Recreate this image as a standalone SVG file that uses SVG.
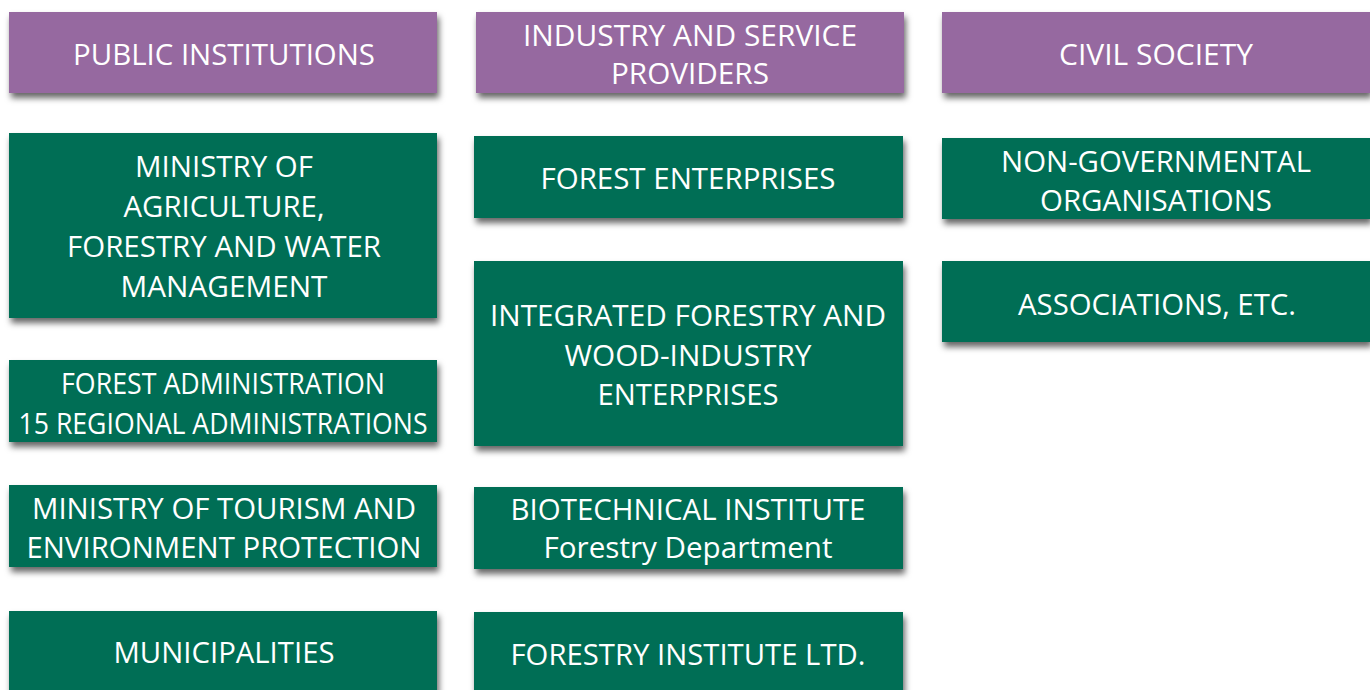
<svg xmlns="http://www.w3.org/2000/svg" width="1370" height="690" viewBox="0 0 1370 690">
<defs>
<filter id="sh" x="-5%" y="-20%" width="115%" height="150%">
<feDropShadow dx="2" dy="5" stdDeviation="3" flood-color="#000" flood-opacity="0.6"/>
</filter>
</defs>
<style>
.h{fill:#9669a0;filter:url(#sh)}
.g{fill:#046e55;filter:url(#sh)}
text{font-family:"Open Sans","Noto Sans",sans-serif;font-size:29px;fill:#fff;text-anchor:middle}
</style>
<rect width="1370" height="690" fill="#fff"/>
<g id="connectors"/>
<g id="public-institutions"><rect class="h" x="9" y="12" width="428" height="81"/><text x="224" y="65" textLength="302" lengthAdjust="spacingAndGlyphs">PUBLIC INSTITUTIONS</text></g>
<g id="industry"><rect class="h" x="476" y="12" width="428" height="81"/><text x="690" y="46" textLength="334" lengthAdjust="spacingAndGlyphs">INDUSTRY AND SERVICE</text><text x="690" y="84" textLength="158" lengthAdjust="spacingAndGlyphs">PROVIDERS</text></g>
<g id="civil-society"><rect class="h" x="942" y="12" width="428" height="81"/><text x="1156" y="65" textLength="194" lengthAdjust="spacingAndGlyphs">CIVIL SOCIETY</text></g>
<g id="ministry-agriculture"><rect class="g" x="9" y="133" width="428" height="185"/><text x="224" y="177" textLength="178" lengthAdjust="spacingAndGlyphs">MINISTRY OF</text><text x="224" y="217" textLength="201" lengthAdjust="spacingAndGlyphs">AGRICULTURE,</text><text x="224" y="257" textLength="314" lengthAdjust="spacingAndGlyphs">FORESTRY AND WATER</text><text x="224" y="297" textLength="207" lengthAdjust="spacingAndGlyphs">MANAGEMENT</text></g>
<g id="forest-administration"><rect class="g" x="9" y="360" width="428" height="82"/><text x="223" y="394" textLength="324" lengthAdjust="spacingAndGlyphs">FOREST ADMINISTRATION</text><text x="223" y="434" textLength="409" lengthAdjust="spacingAndGlyphs">15 REGIONAL ADMINISTRATIONS</text></g>
<g id="ministry-tourism"><rect class="g" x="9" y="485" width="428" height="82"/><text x="224" y="519" textLength="384" lengthAdjust="spacingAndGlyphs">MINISTRY OF TOURISM AND</text><text x="224" y="558" textLength="395" lengthAdjust="spacingAndGlyphs">ENVIRONMENT PROTECTION</text></g>
<g id="municipalities"><rect class="g" x="9" y="611" width="428" height="85"/><text x="224" y="663" textLength="221" lengthAdjust="spacingAndGlyphs">MUNICIPALITIES</text></g>
<g id="forest-enterprises"><rect class="g" x="474" y="136" width="429" height="82"/><text x="688" y="189" textLength="295" lengthAdjust="spacingAndGlyphs">FOREST ENTERPRISES</text></g>
<g id="integrated"><rect class="g" x="474" y="261" width="429" height="185"/><text x="688" y="326" textLength="396" lengthAdjust="spacingAndGlyphs">INTEGRATED FORESTRY AND</text><text x="688" y="366" textLength="247" lengthAdjust="spacingAndGlyphs">WOOD-INDUSTRY</text><text x="688" y="405" textLength="181" lengthAdjust="spacingAndGlyphs">ENTERPRISES</text></g>
<g id="biotechnical"><rect class="g" x="474" y="487" width="429" height="82"/><text x="688" y="520" textLength="355" lengthAdjust="spacingAndGlyphs">BIOTECHNICAL INSTITUTE</text><text x="688" y="558" textLength="289" lengthAdjust="spacingAndGlyphs">Forestry Department</text></g>
<g id="forestry-institute"><rect class="g" x="474" y="612" width="429" height="85"/><text x="688" y="665" textLength="355" lengthAdjust="spacingAndGlyphs">FORESTRY INSTITUTE LTD.</text></g>
<g id="ngo"><rect class="g" x="942" y="138" width="428" height="81"/><text x="1156" y="172" textLength="310" lengthAdjust="spacingAndGlyphs">NON-GOVERNMENTAL</text><text x="1156" y="211" textLength="232" lengthAdjust="spacingAndGlyphs">ORGANISATIONS</text></g>
<g id="associations"><rect class="g" x="942" y="261" width="428" height="81"/><text x="1157" y="315" textLength="278" lengthAdjust="spacingAndGlyphs">ASSOCIATIONS, ETC.</text></g>
</svg>
